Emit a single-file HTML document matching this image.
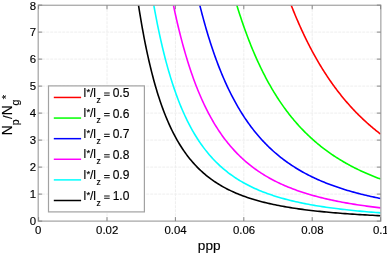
<!DOCTYPE html><html><head><meta charset="utf-8"><style>html,body{margin:0;padding:0;background:#fff;overflow:hidden}svg{display:block;will-change:transform}text{font-family:"Liberation Sans",sans-serif;fill:#000;stroke:#000;stroke-width:0.15px}</style></head><body><svg width="387" height="254" viewBox="0 0 387 254"><rect width="387" height="254" fill="#fff"/><path d="M107.00 5.25V221.10M175.40 5.25V221.10M243.80 5.25V221.10M312.20 5.25V221.10M38.20 194.10H380.85M38.20 167.10H380.85M38.20 140.10H380.85M38.20 113.10H380.85M38.20 86.10H380.85M38.20 59.10H380.85M38.20 32.10H380.85" stroke="#eeeeee" stroke-width="1" stroke-dasharray="3 1" fill="none"/><clipPath id="c"><rect x="38.20" y="5.25" width="342.65" height="215.85"/></clipPath><g clip-path="url(#c)" fill="none" stroke-width="1.6" stroke-linejoin="round"><polyline stroke="#ff0000" points="285.15,-11.10 285.66,-9.68 286.16,-8.27 286.67,-6.86 287.18,-5.47 287.69,-4.08 288.20,-2.71 288.71,-1.34 289.22,0.02 289.73,1.37 290.25,2.72 290.76,4.05 291.28,5.38 291.79,6.70 292.31,8.01 292.83,9.32 293.35,10.61 293.87,11.90 294.40,13.18 294.92,14.45 295.45,15.72 295.97,16.97 296.50,18.22 297.03,19.46 297.56,20.69 298.09,21.92 298.62,23.14 299.15,24.35 299.68,25.55 300.22,26.75 300.75,27.94 301.29,29.12 301.83,30.29 302.37,31.46 302.91,32.62 303.45,33.77 303.99,34.92 304.53,36.06 305.08,37.19 305.62,38.32 306.17,39.43 306.72,40.55 307.27,41.65 307.82,42.75 308.37,43.84 308.92,44.92 309.47,46.00 310.03,47.07 310.58,48.14 311.14,49.19 311.70,50.25 312.26,51.29 312.82,52.33 313.38,53.36 313.94,54.39 314.51,55.41 315.07,56.42 315.64,57.43 316.20,58.43 316.77,59.42 317.34,60.41 317.91,61.40 318.48,62.37 319.06,63.34 319.63,64.31 320.21,65.27 320.78,66.22 321.36,67.17 321.94,68.11 322.52,69.05 323.10,69.98 323.68,70.90 324.27,71.82 324.85,72.73 325.44,73.64 326.03,74.54 326.61,75.44 327.20,76.33 327.79,77.22 328.39,78.10 328.98,78.97 329.57,79.84 330.17,80.70 330.77,81.56 331.37,82.42 331.96,83.26 332.57,84.11 333.17,84.95 333.77,85.78 334.37,86.61 334.98,87.43 335.59,88.25 336.19,89.06 336.80,89.87 337.41,90.67 338.03,91.47 338.64,92.26 339.25,93.05 339.87,93.83 340.49,94.61 341.10,95.38 341.72,96.15 342.34,96.92 342.97,97.68 343.59,98.43 344.21,99.18 344.84,99.93 345.47,100.67 346.09,101.41 346.72,102.14 347.35,102.87 347.99,103.59 348.62,104.31 349.26,105.02 349.89,105.73 350.53,106.44 351.17,107.14 351.81,107.84 352.45,108.53 353.09,109.22 353.73,109.90 354.38,110.58 355.03,111.26 355.67,111.93 356.32,112.60 356.97,113.26 357.63,113.92 358.28,114.58 358.93,115.23 359.59,115.88 360.25,116.52 360.90,117.16 361.56,117.80 362.23,118.43 362.89,119.06 363.55,119.68 364.22,120.30 364.88,120.92 365.55,121.53 366.22,122.14 366.89,122.74 367.56,123.35 368.24,123.94 368.91,124.54 369.59,125.13 370.27,125.72 370.95,126.30 371.63,126.88 372.31,127.46 372.99,128.03 373.68,128.60 374.36,129.16 375.05,129.73 375.74,130.28 376.43,130.84 377.12,131.39 377.81,131.94 378.51,132.49 379.20,133.03 379.90,133.57 380.60,134.10"/><polyline stroke="#00ff00" points="232.07,-11.10 232.76,-8.63 233.45,-6.19 234.15,-3.78 234.84,-1.39 235.54,0.98 236.25,3.32 236.95,5.63 237.66,7.92 238.37,10.18 239.08,12.42 239.80,14.64 240.51,16.84 241.23,19.01 241.96,21.15 242.68,23.28 243.41,25.38 244.14,27.46 244.87,29.52 245.61,31.55 246.35,33.57 247.09,35.56 247.83,37.53 248.58,39.48 249.33,41.41 250.08,43.32 250.83,45.21 251.59,47.08 252.35,48.93 253.11,50.75 253.88,52.56 254.65,54.36 255.42,56.13 256.19,57.88 256.97,59.61 257.75,61.33 258.53,63.03 259.31,64.71 260.10,66.37 260.89,68.01 261.68,69.64 262.48,71.25 263.28,72.84 264.08,74.42 264.88,75.97 265.69,77.52 266.50,79.04 267.31,80.55 268.13,82.04 268.95,83.52 269.77,84.98 270.59,86.43 271.42,87.86 272.25,89.28 273.08,90.68 273.92,92.06 274.76,93.43 275.60,94.79 276.45,96.13 277.30,97.46 278.15,98.77 279.00,100.07 279.86,101.36 280.72,102.63 281.58,103.89 282.45,105.14 283.32,106.37 284.19,107.59 285.07,108.79 285.95,109.99 286.83,111.17 287.72,112.33 288.60,113.49 289.50,114.63 290.39,115.77 291.29,116.88 292.19,117.99 293.09,119.09 294.00,120.17 294.91,121.24 295.83,122.30 296.75,123.35 297.67,124.39 298.59,125.42 299.52,126.44 300.45,127.44 301.38,128.44 302.32,129.42 303.26,130.40 304.20,131.36 305.15,132.31 306.10,133.26 307.06,134.19 308.01,135.11 308.98,136.03 309.94,136.93 310.91,137.83 311.88,138.71 312.85,139.59 313.83,140.45 314.81,141.31 315.80,142.16 316.79,142.99 317.78,143.82 318.78,144.65 319.78,145.46 320.78,146.26 321.78,147.06 322.79,147.84 323.81,148.62 324.83,149.39 325.85,150.15 326.87,150.91 327.90,151.65 328.93,152.39 329.97,153.12 331.01,153.84 332.05,154.56 333.10,155.27 334.15,155.96 335.20,156.66 336.26,157.34 337.32,158.02 338.39,158.69 339.46,159.35 340.53,160.01 341.61,160.66 342.69,161.30 343.77,161.94 344.86,162.56 345.95,163.19 347.05,163.80 348.15,164.41 349.25,165.01 350.36,165.61 351.47,166.20 352.59,166.78 353.71,167.36 354.83,167.93 355.96,168.49 357.09,169.05 358.23,169.61 359.37,170.15 360.51,170.69 361.66,171.23 362.81,171.76 363.97,172.28 365.13,172.80 366.30,173.32 367.46,173.82 368.64,174.33 369.81,174.82 371.00,175.31 372.18,175.80 373.37,176.28 374.57,176.76 375.76,177.23 376.97,177.70 378.17,178.16 379.38,178.61 380.60,179.06"/><polyline stroke="#0000ff" points="195.95,-11.10 196.71,-7.74 197.48,-4.44 198.25,-1.18 199.03,2.03 199.81,5.20 200.59,8.32 201.38,11.40 202.17,14.43 202.97,17.41 203.77,20.36 204.57,23.26 205.38,26.12 206.19,28.93 207.01,31.71 207.82,34.45 208.65,37.15 209.48,39.80 210.31,42.42 211.14,45.01 211.98,47.55 212.82,50.06 213.67,52.53 214.52,54.97 215.38,57.37 216.24,59.73 217.10,62.07 217.97,64.36 218.84,66.63 219.72,68.86 220.60,71.06 221.49,73.23 222.38,75.37 223.27,77.47 224.17,79.55 225.07,81.59 225.98,83.61 226.89,85.60 227.80,87.56 228.73,89.49 229.65,91.39 230.58,93.26 231.51,95.11 232.45,96.93 233.39,98.72 234.34,100.49 235.29,102.24 236.25,103.95 237.21,105.65 238.18,107.31 239.15,108.96 240.12,110.58 241.10,112.18 242.09,113.75 243.08,115.30 244.07,116.83 245.07,118.34 246.08,119.82 247.09,121.29 248.10,122.73 249.12,124.15 250.14,125.55 251.17,126.93 252.21,128.29 253.25,129.63 254.29,130.96 255.34,132.26 256.39,133.54 257.45,134.81 258.52,136.06 259.59,137.28 260.66,138.50 261.74,139.69 262.83,140.87 263.92,142.03 265.01,143.17 266.12,144.29 267.22,145.40 268.33,146.50 269.45,147.58 270.57,148.64 271.70,149.69 272.84,150.72 273.98,151.74 275.12,152.74 276.27,153.73 277.43,154.70 278.59,155.66 279.76,156.60 280.93,157.54 282.11,158.46 283.29,159.36 284.48,160.25 285.68,161.13 286.88,162.00 288.09,162.85 289.30,163.69 290.52,164.52 291.75,165.34 292.98,166.15 294.22,166.94 295.46,167.72 296.71,168.50 297.96,169.26 299.22,170.01 300.49,170.74 301.77,171.47 303.05,172.19 304.33,172.90 305.63,173.59 306.92,174.28 308.23,174.96 309.54,175.62 310.86,176.28 312.18,176.93 313.51,177.57 314.85,178.19 316.19,178.81 317.54,179.43 318.90,180.03 320.27,180.62 321.64,181.21 323.01,181.78 324.40,182.35 325.79,182.91 327.18,183.46 328.59,184.01 330.00,184.54 331.41,185.07 332.84,185.59 334.27,186.11 335.71,186.61 337.15,187.11 338.60,187.60 340.06,188.08 341.53,188.56 343.00,189.03 344.48,189.50 345.97,189.95 347.47,190.40 348.97,190.85 350.48,191.28 352.00,191.71 353.52,192.14 355.05,192.56 356.59,192.97 358.14,193.38 359.69,193.78 361.25,194.17 362.82,194.56 364.40,194.94 365.99,195.32 367.58,195.69 369.18,196.06 370.79,196.42 372.40,196.78 374.03,197.13 375.66,197.48 377.30,197.82 378.94,198.16 380.60,198.49"/><polyline stroke="#ff00ff" points="170.21,-11.10 170.99,-6.98 171.79,-2.93 172.58,1.04 173.39,4.95 174.19,8.79 175.00,12.55 175.82,16.25 176.64,19.89 177.47,23.46 178.30,26.97 179.14,30.41 179.98,33.80 180.82,37.12 181.68,40.39 182.53,43.59 183.39,46.74 184.26,49.84 185.13,52.88 186.01,55.86 186.89,58.80 187.78,61.68 188.67,64.51 189.57,67.28 190.47,70.01 191.38,72.70 192.30,75.33 193.22,77.92 194.14,80.46 195.08,82.95 196.01,85.41 196.95,87.81 197.90,90.18 198.86,92.50 199.82,94.78 200.78,97.03 201.75,99.23 202.73,101.39 203.71,103.52 204.70,105.60 205.69,107.65 206.69,109.67 207.70,111.64 208.71,113.59 209.73,115.49 210.76,117.37 211.79,119.21 212.82,121.02 213.87,122.79 214.92,124.54 215.97,126.25 217.03,127.93 218.10,129.59 219.18,131.21 220.26,132.81 221.34,134.37 222.44,135.91 223.54,137.43 224.65,138.91 225.76,140.37 226.88,141.80 228.01,143.21 229.14,144.59 230.28,145.95 231.43,147.28 232.58,148.59 233.75,149.88 234.91,151.14 236.09,152.38 237.27,153.60 238.46,154.80 239.66,155.98 240.86,157.13 242.07,158.27 243.29,159.38 244.52,160.48 245.75,161.56 246.99,162.61 248.24,163.65 249.49,164.67 250.75,165.67 252.02,166.66 253.30,167.62 254.59,168.57 255.88,169.50 257.18,170.42 258.49,171.32 259.81,172.20 261.13,173.07 262.46,173.92 263.80,174.76 265.15,175.58 266.51,176.39 267.87,177.18 269.24,177.96 270.62,178.73 272.01,179.48 273.41,180.22 274.82,180.94 276.23,181.66 277.65,182.36 279.08,183.04 280.52,183.72 281.97,184.38 283.43,185.03 284.89,185.67 286.37,186.30 287.85,186.92 289.34,187.53 290.85,188.12 292.36,188.71 293.87,189.28 295.40,189.85 296.94,190.40 298.49,190.95 300.04,191.48 301.61,192.01 303.18,192.52 304.77,193.03 306.36,193.53 307.96,194.02 309.58,194.50 311.20,194.97 312.83,195.44 314.47,195.89 316.12,196.34 317.78,196.78 319.46,197.21 321.14,197.63 322.83,198.05 324.53,198.46 326.24,198.86 327.96,199.26 329.70,199.64 331.44,200.02 333.19,200.40 334.96,200.77 336.73,201.13 338.51,201.48 340.31,201.83 342.12,202.17 343.93,202.51 345.76,202.84 347.60,203.16 349.45,203.48 351.31,203.79 353.18,204.10 355.07,204.40 356.96,204.70 358.87,204.99 360.78,205.27 362.71,205.55 364.65,205.83 366.61,206.10 368.57,206.37 370.54,206.63 372.53,206.89 374.53,207.14 376.54,207.39 378.56,207.63 380.60,207.87"/><polyline stroke="#00ffff" points="151.04,-11.10 151.83,-6.31 152.62,-1.61 153.41,2.98 154.21,7.49 155.02,11.90 155.83,16.21 156.65,20.44 157.47,24.58 158.30,28.64 159.14,32.61 159.98,36.50 160.83,40.31 161.68,44.05 162.54,47.70 163.40,51.28 164.27,54.78 165.15,58.22 166.03,61.58 166.92,64.87 167.82,68.10 168.72,71.25 169.63,74.35 170.54,77.38 171.46,80.34 172.39,83.25 173.32,86.09 174.26,88.88 175.21,91.61 176.16,94.28 177.12,96.90 178.09,99.46 179.06,101.97 180.04,104.43 181.03,106.84 182.02,109.20 183.02,111.51 184.03,113.77 185.04,115.99 186.06,118.16 187.09,120.28 188.13,122.36 189.17,124.40 190.22,126.40 191.28,128.35 192.34,130.27 193.42,132.14 194.50,133.98 195.58,135.78 196.68,137.54 197.78,139.26 198.89,140.95 200.01,142.60 201.14,144.23 202.27,145.81 203.41,147.37 204.56,148.89 205.72,150.38 206.89,151.84 208.06,153.27 209.24,154.67 210.43,156.04 211.63,157.38 212.84,158.70 214.06,159.99 215.28,161.25 216.51,162.48 217.75,163.69 219.00,164.88 220.26,166.04 221.53,167.17 222.81,168.29 224.09,169.38 225.38,170.44 226.69,171.49 228.00,172.51 229.32,173.52 230.65,174.50 231.99,175.46 233.34,176.40 234.70,177.33 236.07,178.23 237.45,179.11 238.83,179.98 240.23,180.83 241.64,181.66 243.05,182.48 244.48,183.27 245.92,184.05 247.36,184.82 248.82,185.57 250.29,186.30 251.76,187.02 253.25,187.72 254.75,188.41 256.25,189.09 257.77,189.75 259.30,190.39 260.84,191.03 262.39,191.65 263.95,192.26 265.53,192.85 267.11,193.43 268.70,194.01 270.31,194.56 271.93,195.11 273.55,195.65 275.19,196.17 276.84,196.69 278.50,197.19 280.18,197.69 281.86,198.17 283.56,198.64 285.27,199.11 286.99,199.56 288.72,200.00 290.47,200.44 292.23,200.87 294.00,201.28 295.78,201.69 297.57,202.09 299.38,202.49 301.20,202.87 303.03,203.25 304.87,203.62 306.73,203.98 308.60,204.33 310.49,204.68 312.38,205.01 314.29,205.35 316.22,205.67 318.15,205.99 320.10,206.30 322.07,206.61 324.05,206.91 326.04,207.20 328.04,207.49 330.06,207.77 332.09,208.04 334.14,208.31 336.20,208.58 338.28,208.83 340.37,209.09 342.48,209.34 344.60,209.58 346.73,209.82 348.88,210.05 351.05,210.28 353.23,210.50 355.42,210.72 357.63,210.93 359.86,211.14 362.10,211.35 364.35,211.55 366.63,211.75 368.92,211.94 371.22,212.13 373.54,212.31 375.88,212.50 378.23,212.67 380.60,212.85"/><polyline stroke="#000000" points="136.12,-11.10 136.89,-5.70 137.66,-0.43 138.44,4.72 139.23,9.76 140.02,14.67 140.82,19.47 141.62,24.16 142.43,28.74 143.25,33.21 144.07,37.58 144.90,41.85 145.74,46.01 146.59,50.09 147.44,54.06 148.29,57.95 149.16,61.74 150.03,65.44 150.90,69.06 151.79,72.60 152.68,76.05 153.58,79.43 154.48,82.72 155.39,85.94 156.31,89.08 157.24,92.15 158.18,95.15 159.12,98.08 160.07,100.94 161.02,103.73 161.99,106.46 162.96,109.13 163.94,111.73 164.92,114.27 165.92,116.76 166.92,119.18 167.93,121.55 168.95,123.87 169.97,126.13 171.01,128.34 172.05,130.49 173.10,132.60 174.16,134.66 175.23,136.67 176.30,138.63 177.39,140.55 178.48,142.42 179.58,144.25 180.69,146.04 181.81,147.78 182.94,149.49 184.07,151.15 185.22,152.78 186.37,154.37 187.54,155.92 188.71,157.44 189.89,158.92 191.08,160.36 192.28,161.77 193.49,163.15 194.71,164.50 195.94,165.82 197.18,167.10 198.43,168.36 199.69,169.58 200.96,170.78 202.23,171.95 203.52,173.10 204.82,174.21 206.13,175.30 207.45,176.37 208.78,177.41 210.12,178.42 211.47,179.42 212.83,180.38 214.20,181.33 215.58,182.26 216.98,183.16 218.38,184.04 219.80,184.90 221.22,185.74 222.66,186.57 224.11,187.37 225.57,188.15 227.04,188.92 228.53,189.67 230.02,190.40 231.53,191.11 233.05,191.81 234.58,192.49 236.12,193.16 237.68,193.81 239.24,194.44 240.82,195.06 242.42,195.67 244.02,196.26 245.64,196.84 247.27,197.40 248.91,197.95 250.57,198.49 252.24,199.01 253.92,199.53 255.61,200.03 257.32,200.52 259.04,201.00 260.78,201.47 262.53,201.92 264.29,202.37 266.07,202.80 267.86,203.23 269.66,203.64 271.48,204.05 273.32,204.45 275.17,204.83 277.03,205.21 278.90,205.58 280.80,205.94 282.70,206.30 284.63,206.64 286.56,206.98 288.51,207.30 290.48,207.62 292.47,207.94 294.46,208.24 296.48,208.54 298.51,208.84 300.56,209.12 302.62,209.40 304.70,209.67 306.79,209.94 308.90,210.20 311.03,210.45 313.18,210.70 315.34,210.94 317.52,211.18 319.71,211.41 321.93,211.63 324.16,211.85 326.40,212.07 328.67,212.28 330.95,212.48 333.26,212.68 335.58,212.88 337.91,213.07 340.27,213.26 342.65,213.44 345.04,213.62 347.45,213.79 349.88,213.96 352.33,214.13 354.80,214.29 357.29,214.45 359.80,214.60 362.33,214.75 364.88,214.90 367.45,215.04 370.04,215.19 372.65,215.32 375.28,215.46 377.93,215.59 380.60,215.72"/></g><rect x="38.2" y="5.25" width="342.65" height="215.85" fill="none" stroke="#a2a2a2" stroke-width="1.2"/><path d="M38.60 221.10v-4.0M38.60 5.25v4.0M107.00 221.10v-4.0M107.00 5.25v4.0M175.40 221.10v-4.0M175.40 5.25v4.0M243.80 221.10v-4.0M243.80 5.25v4.0M312.20 221.10v-4.0M312.20 5.25v4.0M380.60 221.10v-4.0M380.60 5.25v4.0M38.20 221.10h4.0M380.85 221.10h-4.0M38.20 194.10h4.0M380.85 194.10h-4.0M38.20 167.10h4.0M380.85 167.10h-4.0M38.20 140.10h4.0M380.85 140.10h-4.0M38.20 113.10h4.0M380.85 113.10h-4.0M38.20 86.10h4.0M380.85 86.10h-4.0M38.20 59.10h4.0M380.85 59.10h-4.0M38.20 32.10h4.0M380.85 32.10h-4.0M38.20 5.10h4.0M380.85 5.10h-4.0" stroke="#858585" stroke-width="1" fill="none"/><text x="36.1" y="225.45" font-size="11.4" text-anchor="end">0</text><text x="36.1" y="198.05" font-size="11.4" text-anchor="end">1</text><text x="36.1" y="171.05" font-size="11.4" text-anchor="end">2</text><text x="36.1" y="144.05" font-size="11.4" text-anchor="end">3</text><text x="36.1" y="117.05" font-size="11.4" text-anchor="end">4</text><text x="36.1" y="90.05" font-size="11.4" text-anchor="end">5</text><text x="36.1" y="63.05" font-size="11.4" text-anchor="end">6</text><text x="36.1" y="36.05" font-size="11.4" text-anchor="end">7</text><text x="36.1" y="9.75" font-size="11.4" text-anchor="end">8</text><text x="38.10" y="233.7" font-size="11.4" text-anchor="middle">0</text><text x="107.20" y="233.7" font-size="11.4" text-anchor="middle">0.02</text><text x="175.60" y="233.7" font-size="11.4" text-anchor="middle">0.04</text><text x="244.00" y="233.7" font-size="11.4" text-anchor="middle">0.06</text><text x="312.40" y="233.7" font-size="11.4" text-anchor="middle">0.08</text><text x="380.80" y="233.7" font-size="11.4" text-anchor="middle">0.1</text><text x="209.2" y="250.1" font-size="13.6" text-anchor="middle">ppp</text><text transform="translate(11.7,135.2) rotate(-90) scale(0.92,1)" font-size="15">N</text><text transform="translate(18.6,125.2) rotate(-90) scale(1,1)" font-size="10.5">p</text><text transform="translate(11.6,118.9) rotate(-90) scale(0.95,1)" font-size="13.5">/</text><text transform="translate(11.7,115.2) rotate(-90) scale(0.92,1)" font-size="15">N</text><text transform="translate(18.7,105.5) rotate(-90) scale(1,1)" font-size="10.5">g</text><text transform="translate(10.0,99.2) rotate(-90) scale(1,1)" font-size="11.2">*</text><rect x="48.5" y="85.9" width="95.9" height="126.0" fill="#fff" stroke="#a2a2a2" stroke-width="1.2"/><line x1="53.8" x2="81.1" y1="97.45" y2="97.45" stroke="#ff0000" stroke-width="1.5"/><text x="83.4" y="96.60" font-size="12">l</text><text x="86.6" y="94.60" font-size="9.5">*</text><text x="90.0" y="96.60" font-size="12">/l</text><text x="96.5" y="102.50" font-size="8.5">z</text><path d="M104.1 92.50h5.6v1h-5.6zM104.1 94.75h5.6v1h-5.6z" fill="#111"/><text x="112.7" y="96.90" font-size="12">0.5</text><line x1="53.8" x2="81.1" y1="118.06" y2="118.06" stroke="#00ff00" stroke-width="1.5"/><text x="83.4" y="117.21" font-size="12">l</text><text x="86.6" y="115.21" font-size="9.5">*</text><text x="90.0" y="117.21" font-size="12">/l</text><text x="96.5" y="123.11" font-size="8.5">z</text><path d="M104.1 113.11h5.6v1h-5.6zM104.1 115.36h5.6v1h-5.6z" fill="#111"/><text x="112.7" y="117.51" font-size="12">0.6</text><line x1="53.8" x2="81.1" y1="138.67" y2="138.67" stroke="#0000ff" stroke-width="1.5"/><text x="83.4" y="137.82" font-size="12">l</text><text x="86.6" y="135.82" font-size="9.5">*</text><text x="90.0" y="137.82" font-size="12">/l</text><text x="96.5" y="143.72" font-size="8.5">z</text><path d="M104.1 133.72h5.6v1h-5.6zM104.1 135.97h5.6v1h-5.6z" fill="#111"/><text x="112.7" y="138.12" font-size="12">0.7</text><line x1="53.8" x2="81.1" y1="159.28" y2="159.28" stroke="#ff00ff" stroke-width="1.5"/><text x="83.4" y="158.43" font-size="12">l</text><text x="86.6" y="156.43" font-size="9.5">*</text><text x="90.0" y="158.43" font-size="12">/l</text><text x="96.5" y="164.33" font-size="8.5">z</text><path d="M104.1 154.33h5.6v1h-5.6zM104.1 156.58h5.6v1h-5.6z" fill="#111"/><text x="112.7" y="158.73" font-size="12">0.8</text><line x1="53.8" x2="81.1" y1="179.89" y2="179.89" stroke="#00ffff" stroke-width="1.5"/><text x="83.4" y="179.04" font-size="12">l</text><text x="86.6" y="177.04" font-size="9.5">*</text><text x="90.0" y="179.04" font-size="12">/l</text><text x="96.5" y="184.94" font-size="8.5">z</text><path d="M104.1 174.94h5.6v1h-5.6zM104.1 177.19h5.6v1h-5.6z" fill="#111"/><text x="112.7" y="179.34" font-size="12">0.9</text><line x1="53.8" x2="81.1" y1="200.50" y2="200.50" stroke="#000000" stroke-width="1.5"/><text x="83.4" y="199.65" font-size="12">l</text><text x="86.6" y="197.65" font-size="9.5">*</text><text x="90.0" y="199.65" font-size="12">/l</text><text x="96.5" y="205.55" font-size="8.5">z</text><path d="M104.1 195.55h5.6v1h-5.6zM104.1 197.80h5.6v1h-5.6z" fill="#111"/><text x="112.7" y="199.95" font-size="12">1.0</text></svg></body></html>
